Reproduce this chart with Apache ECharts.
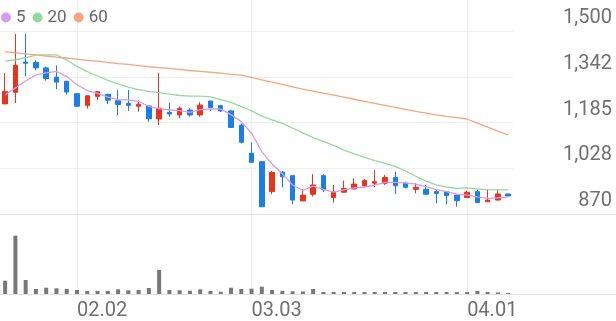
<!DOCTYPE html>
<html><head><meta charset="utf-8">
<script src="https://cdn.jsdelivr.net/npm/echarts@6/dist/echarts.min.js"></script>
<style>html,body{margin:0;padding:0;background:#fff}#c{width:616px;height:321px}</style>
</head><body><div id="c"></div>
<script>
const dates = ['01.22','01.23','01.26','01.27','01.28','01.29','01.30','02.02','02.03','02.04','02.05','02.06','02.09','02.10','02.11','02.12','02.13','02.19','02.20','02.23','02.24','02.25','02.26','02.27','03.03','03.04','03.05','03.06','03.09','03.10','03.11','03.12','03.13','03.16','03.17','03.18','03.19','03.20','03.23','03.24','03.25','03.26','03.27','03.30','03.31','04.01','04.02','04.03','04.06','04.07'];
const monthLabels = ['02.02','03.03','04.01'];
const opens  = [1249,1289,1393,1392,1373,1341,1327,1284,1244,1275,1282,1260,1251,1241,1242,1197,1220,1211,1228,1211,1259,1243,1225,1176,1079,1050,947,1014,1002,915,938,1002,927,945,956,967,976,976,996,976,955,955,947,947,935,927,947,912,918,939];
const closes = [1292,1382,1389,1373,1336,1324,1290,1241,1277,1291,1262,1247,1244,1248,1198,1234,1214,1234,1211,1245,1237,1225,1168,1117,1048,895,1013,998,918,935,970,953,947,958,973,985,981,996,967,962,962,938,941,933,916,945,910,918,939,932];
const lows   = [1249,1252,1344,1365,1329,1300,1281,1238,1233,1262,1248,1210,1225,1222,1187,1176,1205,1199,1205,1205,1225,1221,1168,1113,1048,895,938,961,904,915,930,945,909,945,956,962,962,970,939,958,941,938,907,903,895,925,907,912,918,932];
const highs  = [1355,1490,1490,1399,1378,1381,1327,1286,1277,1292,1284,1297,1297,1260,1242,1356,1253,1240,1234,1255,1259,1246,1228,1182,1117,1050,1018,1018,1002,956,1007,1007,970,985,993,990,1021,1004,1016,981,976,970,953,947,935,950,953,953,956,939];
const ma5  = [1280,1304,1328,1349,1356,1361,1343,1315,1295,1285,1272,1264,1263,1258,1240,1233,1228,1226,1220,1229,1232,1231,1212,1188,1148,1085,1042,1008,970,951,966,955,945,953,960,963,969,979,979,977,973,964,954,947,938,935,929,924,926,929];
const ma20 = [1396,1401,1408,1417,1418,1418,1400,1378,1360,1345,1330,1318,1307,1298,1292,1288,1283,1278,1276,1276,1273,1264,1254,1240,1225,1207,1194,1182,1166,1149,1133,1120,1106,1090,1077,1065,1054,1044,1034,1018,1000,983,970,963,958,960,956,954,953,953];
const ma60 = [1429,1425,1421,1418,1414,1410,1407,1403,1399,1396,1392,1388,1385,1381,1377,1374,1371,1368,1364,1361,1358,1355,1351,1348,1340,1332,1324,1316,1308,1300,1293,1286,1279,1272,1265,1258,1251,1244,1237,1230,1223,1217,1211,1206,1202,1197,1183,1169,1155,1142];
const volumes = [133,583,140,50,63,57,50,40,30,30,30,47,37,40,60,240,40,37,33,47,30,23,63,50,53,73,40,30,27,25,50,20,20,20,20,20,20,20,20,20,20,20,20,20,20,20,30,20,15,10];
const yTickLabels = ['870','1,028','1,185','1,342','1,500'];
const priceMin = 870, priceMax = 1500, volMax = 630;
const slotCount = 60;

const UP = '#e8341c', DOWN = '#1a7ee8';
const FONT = 'Roboto';
const candleData = dates.map((d, i) => [opens[i], closes[i], lows[i], highs[i]]);

const chart = echarts.init(document.getElementById('c'));
chart.setOption({
  animation: false,
  legend: {
    data: ['5','20','60'], icon: 'circle', itemWidth: 10, itemHeight: 10, itemGap: 7,
    left: 1, top: 9, padding: 0, textStyle: { fontFamily: FONT, fontSize: 17, color: '#666' }
  },
  grid: [
    { left: 0, right: 0, top: 31, height: 183 },
    { left: 0, right: 0, top: 231, bottom: 27 },
    { left: 0, right: 103, top: 31, height: 183 },
    { left: 5.13, right: 107.8, top: 0, bottom: 27 }
  ],
  xAxis: [
    { type: 'category', gridIndex: 0, data: dates, max: slotCount - 1, boundaryGap: true,
      axisLine: { show: true, lineStyle: { color: '#e3e3e3' } }, axisTick: { show: false },
      axisLabel: { show: false }, splitLine: { show: false } },
    { type: 'category', gridIndex: 1, data: dates, max: slotCount - 1, boundaryGap: true,
      axisLine: { show: true, lineStyle: { color: '#e3e3e3' } }, axisTick: { show: false },
      axisLabel: { show: false }, splitLine: { show: false } },
    { type: 'value', gridIndex: 2, show: false },
    { type: 'category', gridIndex: 3, data: dates, boundaryGap: false,
      axisLine: { show: false }, axisTick: { show: false },
      splitLine: { show: true, interval: (i, v) => monthLabels.includes(v), lineStyle: { color: '#efefef' } },
      axisLabel: { interval: (i, v) => monthLabels.includes(v), align: 'left', margin: 9,
        fontFamily: FONT, fontSize: 20, lineHeight: 20, color: '#707070' } }
  ],
  yAxis: [
    { type: 'value', gridIndex: 0, min: priceMin, max: priceMax, show: false },
    { type: 'value', gridIndex: 1, min: 0, max: volMax, show: false },
    { type: 'value', gridIndex: 2, min: 0, max: yTickLabels.length - 1, interval: 1, position: 'right',
      axisLine: { show: false }, axisTick: { show: false },
      splitLine: { show: true, lineStyle: { color: '#efefef' } },
      axisLabel: { formatter: v => yTickLabels[v], align: 'right', margin: 99, verticalAlign: 'bottom',
        padding: [0, 0, 3, 0], fontFamily: FONT, fontSize: 20, lineHeight: 20, color: '#707070' } },
    { type: 'value', gridIndex: 3, show: false }
  ],
  series: [
    { name: '5', type: 'line', xAxisIndex: 0, yAxisIndex: 0, data: ma5, symbol: 'none',
      lineStyle: { width: 1.3, color: '#d69cf0' }, itemStyle: { color: '#d69cf0' } },
    { name: '20', type: 'line', xAxisIndex: 0, yAxisIndex: 0, data: ma20, symbol: 'none',
      lineStyle: { width: 1.3, color: '#95d9a0' }, itemStyle: { color: '#95d9a0' } },
    { name: '60', type: 'line', xAxisIndex: 0, yAxisIndex: 0, data: ma60, symbol: 'none',
      lineStyle: { width: 1.3, color: '#f7a47f' }, itemStyle: { color: '#f7a47f' } },
    { name: 'price', type: 'candlestick', xAxisIndex: 0, yAxisIndex: 0, data: candleData, barWidth: 5,
      itemStyle: { color: UP, color0: DOWN, borderColor: UP, borderColor0: DOWN, borderWidth: 1 } },
    { name: 'volume', type: 'bar', xAxisIndex: 1, yAxisIndex: 1, data: volumes, barWidth: 4,
      itemStyle: { color: '#787878' } }
  ]
});
</script></body></html>
